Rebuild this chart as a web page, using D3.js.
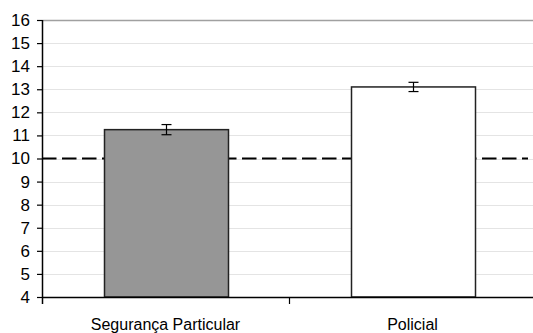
<!DOCTYPE html>
<html>
<head>
<meta charset="utf-8">
<script src="https://cdn.jsdelivr.net/npm/d3@7"></script>
<style>
  body { margin: 0; background: #fff; }
  text { font-family: "Liberation Sans", Arial, sans-serif; }
</style>
</head>
<body>
<div id="chart"></div>
<script>
// chart data
const categories = ['Segurança Particular', 'Policial'];
const means = [11.25, 13.1];
const errors = [0.22, 0.2];
const barColors = ['#969696', '#ffffff'];
const yTicks = [4, 5, 6, 7, 8, 9, 10, 11, 12, 13, 14, 15, 16];
const referenceValue = 10;

const width = 533, height = 333;
const margin = {top: 20, right: -3, bottom: 36, left: 42};

const svg = d3.select('#chart')
    .append('svg')
    .attr('width', width)
    .attr('height', height);

const chart = svg.append('g')
    .attr('transform', `translate(${margin.left}, ${margin.top})`);

const chartWidth = width - margin.left - margin.right;
const chartHeight = height - margin.top - margin.bottom;

const x = d3.scaleBand()
    .domain(categories)
    .range([0, chartWidth])
    .paddingInner(0.5)
    .paddingOuter(0.25);

const xBand = d3.scaleBand()
    .domain(categories)
    .range([0, chartWidth]);

const y = d3.scaleLinear()
    .domain([4, 16])
    .range([chartHeight, 0]);

// gridlines
chart.selectAll('line.grid')
    .data(yTicks.filter(d => d > 4))
    .join('line')
    .classed('grid', true)
    .attr('x1', 0)
    .attr('x2', chartWidth)
    .attr('y1', d => Math.round(y(d)) + 0.5)
    .attr('y2', d => Math.round(y(d)) + 0.5)
    .attr('stroke', d => d === 16 ? '#a0a0a0' : '#e4e4e4')
    .attr('stroke-width', d => d === 16 ? 1.5 : 1);

// dashed reference line (behind bars)
chart.append('line')
    .attr('x1', 0)
    .attr('x2', 486)
    .attr('y1', y(referenceValue))
    .attr('y2', y(referenceValue))
    .attr('stroke', '#000')
    .attr('stroke-width', 2.2)
    .attr('stroke-dasharray', '14.5,5.5');

// bars
chart.selectAll('rect.bar')
    .data(categories)
    .join('rect')
    .classed('bar', true)
    .attr('x', d => Math.round(x(d)) + 0.5)
    .attr('y', (d, i) => y(means[i]))
    .attr('width', Math.round(x.bandwidth()))
    .attr('height', (d, i) => y(4) - y(means[i]))
    .attr('fill', (d, i) => barColors[i])
    .attr('stroke', '#222')
    .attr('stroke-width', 1.5);

// error bars
const err = chart.selectAll('g.err')
    .data(categories)
    .join('g')
    .classed('err', true)
    .attr('transform', d => `translate(${Math.round(x(d) + x.bandwidth() / 2) + 0.5},0)`);
err.append('line')
    .attr('y1', (d, i) => y(means[i] + errors[i]))
    .attr('y2', (d, i) => y(means[i] - errors[i]))
    .attr('stroke', '#000').attr('stroke-width', 1.2);
err.selectAll('line.cap')
    .data((d, i) => [means[i] + errors[i], means[i] - errors[i]])
    .join('line')
    .classed('cap', true)
    .attr('x1', -5).attr('x2', 5)
    .attr('y1', d => y(d)).attr('y2', d => y(d))
    .attr('stroke', '#000').attr('stroke-width', 1.2);

// y axis
const yAxis = chart.append('g')
    .call(d3.axisLeft(y).tickValues(yTicks).tickSize(5).tickPadding(7));
yAxis.select('.domain').attr('d', `M0.5,${chartHeight + 7}V0`).attr('stroke-width', 1.5);
yAxis.selectAll('.tick line').attr('stroke-width', 1.2);
yAxis.selectAll('.tick text')
    .attr('font-size', 17)
    .attr('fill', '#000')
    .style('font-family', '"Liberation Sans", Arial, sans-serif');

// x axis
const xAxis = chart.append('g')
    .attr('transform', `translate(0, ${chartHeight})`);
xAxis.append('line')
    .attr('x1', 0).attr('x2', chartWidth)
    .attr('y1', 0.5).attr('y2', 0.5)
    .attr('stroke', '#000').attr('stroke-width', 1.5);
xAxis.selectAll('line.xtick')
    .data(categories.slice(1))
    .join('line')
    .classed('xtick', true)
    .attr('x1', d => Math.round(xBand(d)) + 0.5)
    .attr('x2', d => Math.round(xBand(d)) + 0.5)
    .attr('y1', 0).attr('y2', 7)
    .attr('stroke', '#000').attr('stroke-width', 1.2);
xAxis.selectAll('text.xlabel')
    .data(categories)
    .join('text')
    .classed('xlabel', true)
    .attr('x', d => x(d) + x.bandwidth() / 2)
    .attr('y', 33)
    .attr('text-anchor', 'middle')
    .attr('font-size', 16)
    .text(d => d);
</script>
</body>
</html>
